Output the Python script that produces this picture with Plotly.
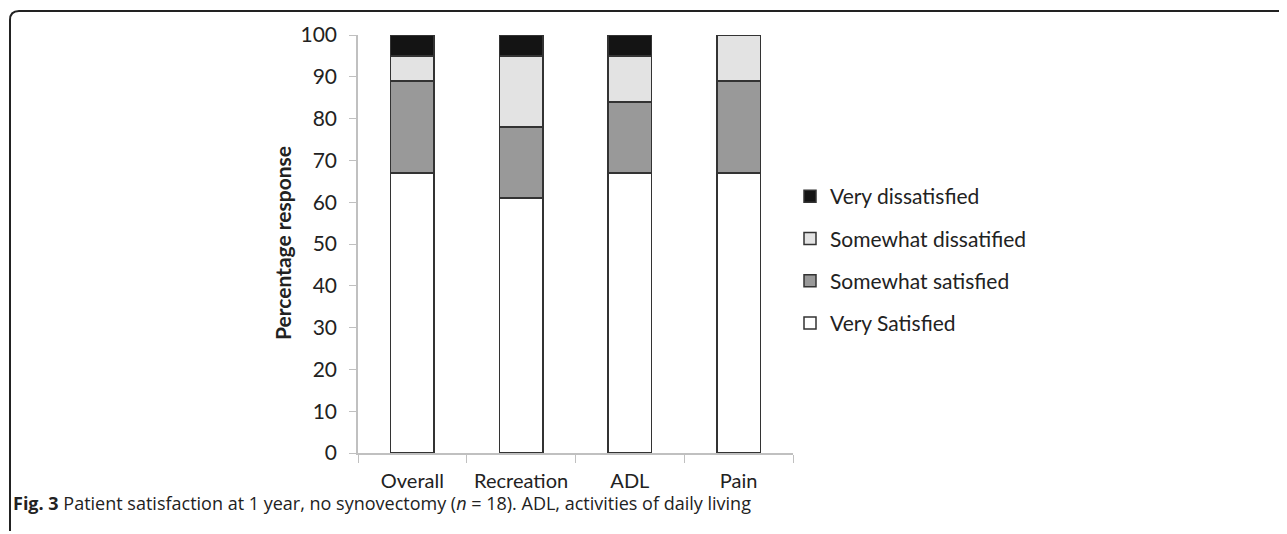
import plotly.graph_objects as go

categories = ["Overall", "Recreation", "ADL", "Pain"]
very_satisfied = [67, 61, 67, 67]
somewhat_satisfied = [22, 17, 17, 22]
somewhat_dissatisfied = [6, 17, 11, 11]
very_dissatisfied = [5, 5, 5, 0]
y_ticks = [0, 10, 20, 30, 40, 50, 60, 70, 80, 90, 100]

series = [
    ("Very Satisfied", very_satisfied, "#ffffff", 4),
    ("Somewhat satisfied", somewhat_satisfied, "#999999", 3),
    ("Somewhat dissatified", somewhat_dissatisfied, "#e3e3e3", 2),
    ("Very dissatisfied", very_dissatisfied, "#141414", 1),
]

O = 8  # page body margin
W, H = 1287 - O, 534 - O
L, R, T, B = 358, 793, 35, 453  # plot area in reference pixels

fig = go.Figure()
for name, vals, col, rank in series:
    fig.add_trace(go.Bar(
        x=categories, y=vals, name=name, legendgroup=name, legendrank=rank,
        marker=dict(color=col, line=dict(color="#333333", width=1.5)),
    ))

def px(x):
    return (x - L) / (R - L)

def py(y):
    return (B - y) / (B - T)

font = "Lato, Open Sans, sans-serif"

fig.update_layout(
    width=W, height=H,
    margin=dict(l=L - O, r=W - (R - O), t=T - O, b=H - (B - O), pad=0),
    barmode="stack", bargap=0.6,
    plot_bgcolor="white", paper_bgcolor="white",
    font=dict(family=font, size=21, color="#222222"),
    showlegend=True,
    legend=dict(
        traceorder="grouped", tracegroupgap=12,
        x=px(790), xanchor="left", y=py(260), yanchor="middle",
        font=dict(size=21, family=font, color="#222222"),
        bgcolor="rgba(0,0,0,0)",
    ),
    xaxis=dict(
        showline=True, linecolor="#c0c0c0", linewidth=1.5,
        ticks="outside", tickson="boundaries", ticklen=8, tickcolor="#c0c0c0",
        showgrid=False, ticklabelstandoff=9,
        tickfont=dict(size=20, family=font, color="#222222"),
    ),
    yaxis=dict(
        range=[0, 100], tickvals=y_ticks, ticktext=[str(v) for v in y_ticks],
        showline=True, linecolor="#c0c0c0", linewidth=1.5,
        ticks="outside", ticklen=7, tickcolor="#c0c0c0",
        showgrid=False, zeroline=False, ticklabelstandoff=8,
        tickfont=dict(size=21, family=font, color="#222222"),
    ),
    annotations=[
        dict(text="<b>Percentage response</b>", textangle=-90,
             xref="paper", yref="paper", x=px(282), y=py(243),
             xanchor="center", yanchor="middle", showarrow=False,
             font=dict(size=21, family=font, color="#222222")),
        dict(text="<b>Fig. 3</b> Patient satisfaction at 1 year, no synovectomy (<i>n</i> = 18). ADL, activities of daily living",
             xref="paper", yref="paper", x=px(11), y=py(503),
             xanchor="left", yanchor="middle", showarrow=False,
             font=dict(size=18, family="Open Sans, sans-serif", color="#222222")),
    ],
)

# rounded frame (top + left edges)
r = 9
path = (f"M {px(10)},{py(531)} Q {px(10)},{py(526)} {px(10)},{py(520)} "
        f"L {px(10)},{py(11 + r)} Q {px(10)},{py(11)} {px(10 + r)},{py(11)} "
        f"L {px(1300)},{py(11)}")
fig.add_shape(type="path", path=path, xref="paper", yref="paper",
              line=dict(color="#222222", width=2))

fig.write_html("out.html")
